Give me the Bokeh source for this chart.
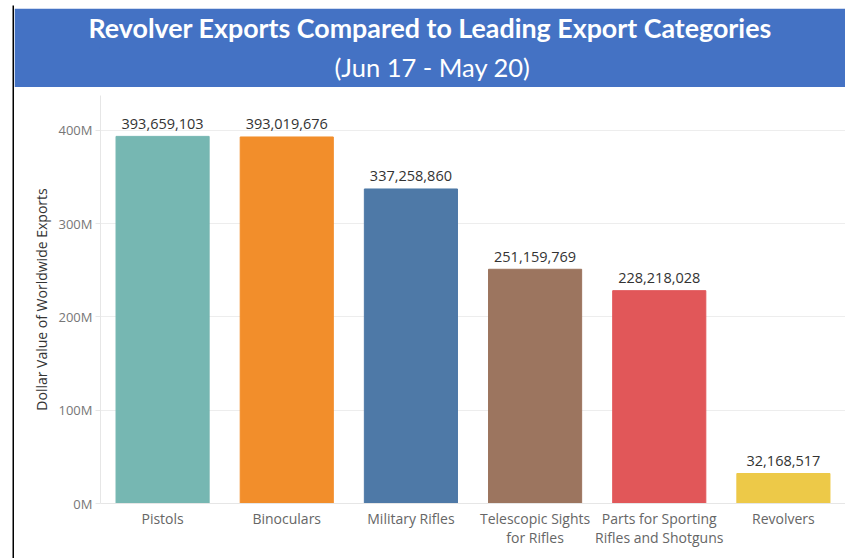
from bokeh.plotting import figure
from bokeh.layouts import row, column
from bokeh.models import (ColumnDataSource, FactorRange, Range1d, CustomJSTickFormatter,
                          FixedTicker, Spacer, Title)
from bokeh.core.properties import value
from bokeh.embed import file_html
from bokeh.resources import INLINE

# ---- data ----
categories = ["Pistols", "Binoculars", "Military Rifles", "Telescopic Sights\nfor Rifles",
              "Parts for Sporting\nRifles and Shotguns", "Revolvers"]
export_values = [393659103, 393019676, 337258860, 251159769, 228218028, 32168517]
bar_colors = ["#76B7B2", "#F28E2B", "#4E79A7", "#9C755F", "#E15759", "#EDC948"]
y_ticks = [0, 100000000, 200000000, 300000000, 400000000]
title_text = "Revolver Exports Compared to Leading Export Categories"
subtitle_text = "(Jun 17 - May 20)"
y_title = "Dollar Value of Worldwide Exports"

FONT = "Open Sans"
BLUE = "#4472C4"
CW = 831  # width of the right column
Y_MAX = 437500000
FRAME_H = 408
LABEL_GAP_PX = 12.5


def bare(width, height, bg, border, **kw):
    f = figure(width=width, height=height, toolbar_location=None, output_backend="svg",
               x_axis_type=None, y_axis_type=None, background_fill_color=bg,
               border_fill_color=border, **kw)
    f.grid.visible = False
    f.outline_line_color = None
    return f


# ---- left black border strip ----
lb = bare(14, 558, "black", "white", min_border_left=12, min_border_right=0,
          min_border_top=5, min_border_bottom=0, x_range=Range1d(0, 1), y_range=Range1d(0, 1))

# ---- top black line ----
topline = bare(CW, 3, "black", "black", min_border=0, x_range=Range1d(0, 1), y_range=Range1d(0, 1))

# ---- banner ----
banner = bare(CW, 79, BLUE, BLUE, min_border=0,
              x_range=Range1d(100, 845), y_range=Range1d(0, 40))
banner.outline_line_color = BLUE
banner.outline_line_width = 3
banner.title = Title(text=title_text, align="left", offset=-12, vertical_align="top",
                     standoff=6, text_font="Lato", text_font_style="bold",
                     text_font_size="26.8px", text_color="white")
banner.text(x=[432], y=[21], text=[subtitle_text], text_align="center", text_baseline="middle",
            text_font=value("Lato"), text_font_size="25.5px", text_color="white")

# ---- chart ----
gap = LABEL_GAP_PX * Y_MAX / FRAME_H
src = ColumnDataSource(dict(cat=categories, val=export_values, color=bar_colors,
                            label_y=[v + gap for v in export_values],
                            label=[f"{v:,}" for v in export_values]))

p = figure(width=CW, height=471, toolbar_location=None, output_backend="svg",
           x_range=FactorRange(factors=categories, range_padding=0),
           y_range=Range1d(0, Y_MAX),
           min_border_left=86, min_border_right=0, min_border_top=8, min_border_bottom=55,
           background_fill_color="white", border_fill_color="white")
p.outline_line_color = None

p.vbar(x="cat", top="val", width=0.75, color="color", source=src)
p.text(x="cat", y="label_y", text="label", source=src, text_align="center",
       text_baseline="middle", text_font=value(FONT),
       text_font_size="14.5px", text_color="#333333")

p.xgrid.visible = False
p.ygrid.grid_line_color = "#EDEDED"
p.ygrid.ticker = FixedTicker(ticks=y_ticks)

p.yaxis.ticker = FixedTicker(ticks=y_ticks)
p.yaxis.formatter = CustomJSTickFormatter(code="return (tick/1e6).toFixed(0) + 'M';")
p.yaxis.axis_label = y_title
p.yaxis.axis_label_text_font = FONT
p.yaxis.axis_label_text_font_size = "14px"
p.yaxis.axis_label_text_font_style = "normal"
p.yaxis.axis_label_text_color = "#333333"
p.yaxis.axis_label_standoff = 5
p.yaxis.major_label_text_font = FONT
p.yaxis.major_label_text_font_size = "13px"
p.yaxis.major_label_text_color = "#777777"
p.yaxis.axis_line_color = "#E6E6E6"
p.yaxis.major_tick_line_color = "#E6E6E6"
p.yaxis.major_tick_out = 5
p.yaxis.major_tick_in = 0
p.yaxis.minor_tick_line_color = None
p.yaxis.major_label_standoff = 3

p.xaxis.axis_line_color = "#E6E6E6"
p.xaxis.major_tick_line_color = None
p.xaxis.major_label_text_font = FONT
p.xaxis.major_label_text_font_size = "14px"
p.xaxis.major_label_text_color = "#666666"
p.xaxis.major_label_text_line_height = 1.0
p.xaxis.major_label_standoff = -1

layout = row(lb, column(Spacer(width=CW, height=5), topline, banner, p))

open("out.html", "w").write(file_html(layout, INLINE))
